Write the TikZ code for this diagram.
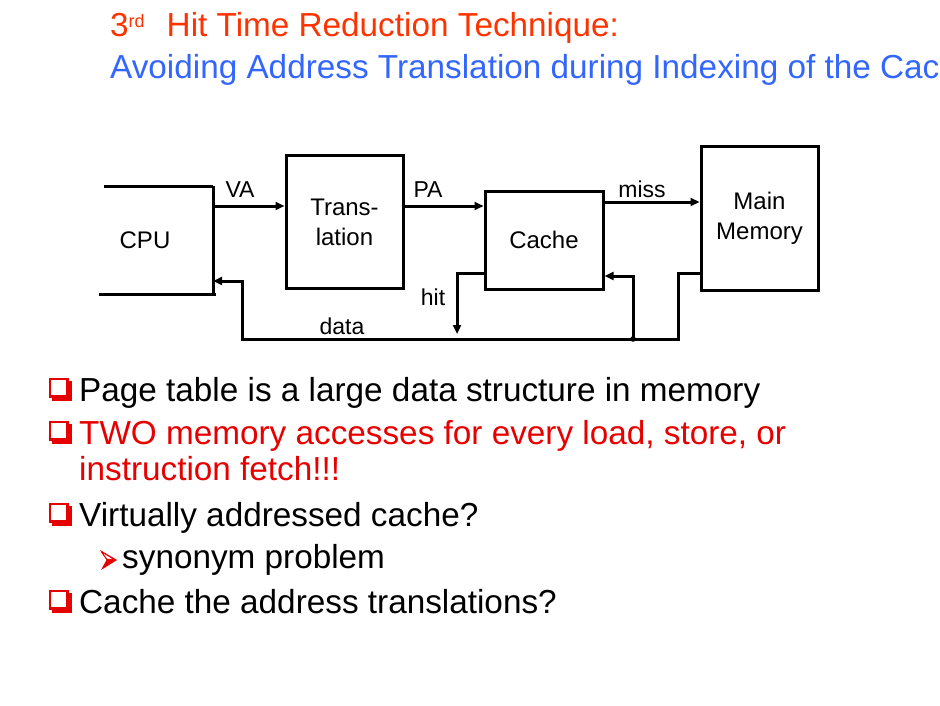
\documentclass[tikz,border=0pt]{standalone}
\usepackage{fontspec}
\setmainfont{Liberation Sans}
\usetikzlibrary{arrows.meta}
\definecolor{titlered}{RGB}{255,51,0}
\definecolor{titleblue}{RGB}{51,102,255}
\definecolor{bulletred}{RGB}{230,0,0}
\begin{document}
\begin{tikzpicture}[x=1pt,y=-1pt,
  wire/.style={line width=3pt,line cap=rect},
  flow/.style={wire,-{Triangle[length=9pt,width=8pt]}},
  unit/.style={draw,line width=3pt,inner sep=0pt,align=center,
    font=\fontsize{24}{30}\selectfont},
  tag/.style={font=\fontsize{23}{26}\selectfont,inner sep=0pt},
  heading/.style={anchor=base west,inner sep=0pt,font=\fontsize{33.3}{38}\selectfont},
  item/.style={anchor=base west,inner sep=0pt,font=\fontsize{33.3}{38}\selectfont},
  boxmark/.pic={
    \fill[bulletred] (3,3) rectangle (23,23);
    \filldraw[draw=bulletred,fill=white,line width=2.4pt] (1.2,1.2) rectangle (18.5,18.5);
  },
  dartmark/.pic={
    \fill[bulletred] (0,0) -- (17,10) -- (1,20) -- (6.5,10) -- cycle;
    \filldraw[draw=bulletred,fill=white,line width=0.9pt,line join=round]
      (1.2,1.6) -- (14,9.2) -- (6.8,9.2) -- cycle;
  }]
\useasboundingbox (0,0) rectangle (940,706);

% slide heading
\node[heading,text=titlered] (h1) at (110,37)
  {3\raisebox{9pt}{\fontsize{18}{20}\selectfont rd}\hspace{22pt}Hit Time Reduction Technique:};
\node[heading,text=titleblue] (h2) at (110,79)
  {Avoiding Address Translation during Indexing of the Cache};

% processor side: open bracket with its label
\node[font=\fontsize{24}{28}\selectfont,inner sep=0pt] (cpu) at (145,240) {CPU};
\coordinate (cputop) at (213,187);
\coordinate (cpubot) at (213,292);
\draw[wire] (105,186) -- (211,186);
\draw[wire] (100,294) -- (214,294);
\draw[wire] (cputop) -- (cpubot);

% units
\node[unit,minimum width=117pt,minimum height=132pt] (tr) at (344.5,222) {Trans-\\lation};
\node[unit,minimum width=118pt,minimum height=98pt] (cache) at (544,240) {Cache};
\node[unit,minimum width=117pt,minimum height=143pt] (mem) at (759.5,218.5) {Main\\Memory};

% forward path
\coordinate (va) at (213,206);
\draw[flow] (va) -- (tr.west |- va);
\coordinate (pa) at (tr.east |- 0,206);
\draw[flow] (pa) -- (cache.west |- pa);
\coordinate (ms) at (cache.east |- 0,202);
\draw[flow] (ms) -- (mem.west |- ms);

% hit path
\coordinate (hitcorner) at (457,273);
\coordinate (hitend) at (457,334);
\draw[flow] (cache.west |- hitcorner) -- (hitcorner) -- (hitend);

% data bus back to processor and cache
\coordinate (memout) at (678,273);
\coordinate (busR) at (678,339);
\coordinate (busL) at (242,339);
\coordinate (upL) at (242,281);
\coordinate (cpuin) at (213,281);
\draw[flow] (mem.west |- memout) -- (memout) -- (busR) -- (busL) -- (upL) -- (cpuin);
\coordinate (tap) at (633,339);
\coordinate (tapup) at (633,276);
\fill (tap) circle (2.8pt);
\draw[flow] (tap) -- (tapup) -- (cache.east |- tapup);

% connector labels
\node[tag] (lva) at (240,190) {VA};
\node[tag] (lpa) at (428,190) {PA};
\node[tag] (lmiss) at (642,189) {miss};
\node[tag] (lhit) at (433,297) {hit};
\node[tag] (ldata) at (342,326) {data};

% bullet list
\pic at (49,378) {boxmark};
\node[item] (b1) at (79,401) {Page table is a large data structure in memory};
\pic at (49,421) {boxmark};
\node[item,text=bulletred] (b2) at (79,444) {TWO memory accesses for every load, store, or};
\node[item,text=bulletred] (b2b) at (79,480) {instruction fetch!!!};
\pic at (49,503) {boxmark};
\node[item] (b3) at (79,526) {Virtually addressed cache?};
\pic at (100,550) {dartmark};
\node[item] (b3a) at (122,568) {synonym problem};
\pic at (49,590) {boxmark};
\node[item] (b4) at (79,613) {Cache the address translations?};
\end{tikzpicture}
\end{document}
